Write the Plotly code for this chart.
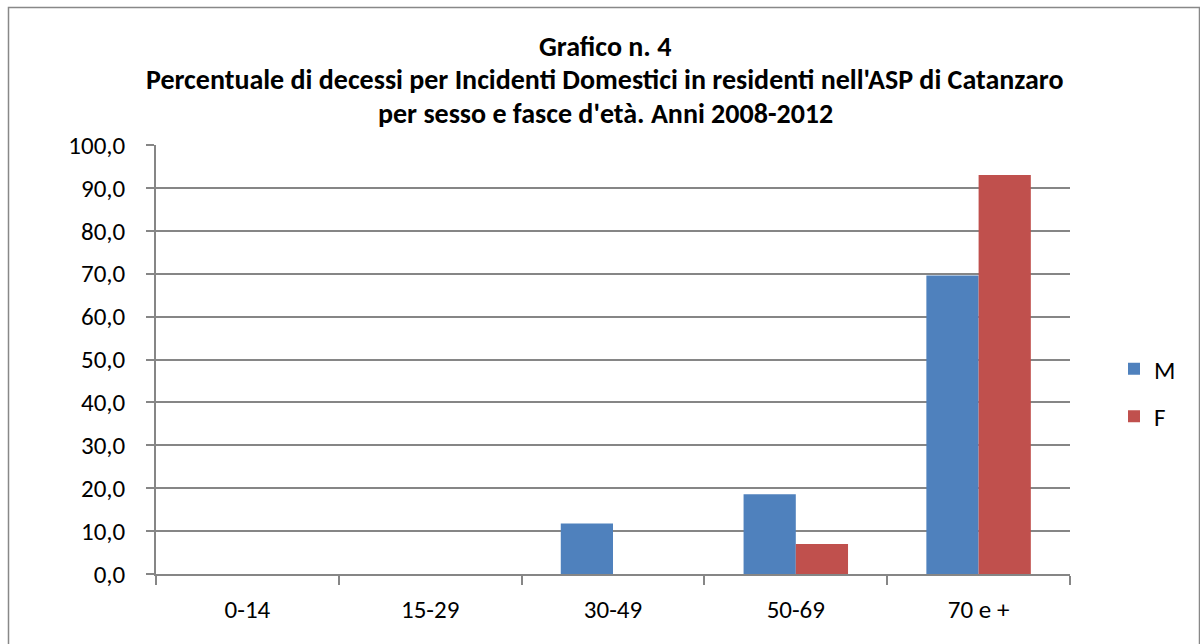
import plotly.graph_objects as go

categories = ["0-14", "15-29", "30-49", "50-69", "70 e +"]
series_names = ["M", "F"]
values_m = [0.0, 0.0, 11.8, 18.6, 69.6]
values_f = [0.0, 0.0, 0.0, 7.0, 93.0]
colors = ["#4F81BD", "#C0504D"]
title_lines = [
    "Grafico n. 4",
    "Percentuale di decessi per Incidenti Domestici in residenti nell'ASP di Catanzaro",
    "per sesso e fasce d'età. Anni 2008-2012",
]

W, H = 1200, 644
L, R, T, B = 156, 130, 145, 70
PW, PH = W - L - R, H - T - B

def px_x(x):
    return (x - L) / PW

def px_y(y):
    return (H - B - y) / PH

FONT = "Carlito, Lato, 'Open Sans', sans-serif"
GRID = "#868686"

fig = go.Figure()
for name, vals, col in zip(series_names, [values_m, values_f], colors):
    fig.add_trace(go.Bar(
        x=categories, y=vals, name=name, marker=dict(color=col, line=dict(width=0)),
        legendgroup=name, hoverinfo="x+y+name",
    ))

annotations = []
for txt, yc in zip(title_lines, [47, 80, 113]):
    annotations.append(dict(
        text="<b>" + txt + "</b>", xref="paper", yref="paper",
        x=px_x(605), y=px_y(yc), xanchor="center", yanchor="middle",
        showarrow=False, font=dict(family=FONT, size=28, color="#000000"),
    ))

fig.update_layout(
    width=W, height=H,
    margin=dict(l=L, r=R, t=T, b=B, pad=0),
    paper_bgcolor="white", plot_bgcolor="white",
    separators=",.",
    barmode="group", bargap=1.5 / 3.5, bargroupgap=0,
    font=dict(family=FONT, size=25, color="#000000"),
    annotations=annotations,
    showlegend=True,
    legend=dict(
        x=px_x(1114), y=px_y(346), xanchor="left", yanchor="top",
        font=dict(family=FONT, size=25, color="#000000"),
        traceorder="grouped", tracegroupgap=12, bgcolor="rgba(0,0,0,0)",
        itemsizing="constant",
    ),
    shapes=[dict(
        type="rect", xref="paper", yref="paper",
        x0=px_x(8.5), x1=px_x(1199.5), y0=px_y(660), y1=px_y(7.5),
        line=dict(color="#888888", width=1.5), fillcolor="rgba(0,0,0,0)", layer="below",
    )],
)

fig.update_xaxes(
    type="category", tickson="boundaries", ticks="outside", ticklen=9, tickwidth=1.5,
    tickcolor=GRID, showline=True, linecolor=GRID, linewidth=1.5,
    showgrid=False, ticklabelstandoff=12, tickfont=dict(size=25),
)
fig.update_yaxes(
    range=[0, 100], dtick=10, tick0=0, tickformat=".1f", ticks="outside", ticklen=8,
    tickwidth=1.5, tickcolor=GRID, showline=True, linecolor=GRID, linewidth=1.5,
    showgrid=True, gridcolor=GRID, gridwidth=1.5, zeroline=False,
    ticklabelstandoff=16, tickfont=dict(size=25),
)

fig.write_html("out.html")
